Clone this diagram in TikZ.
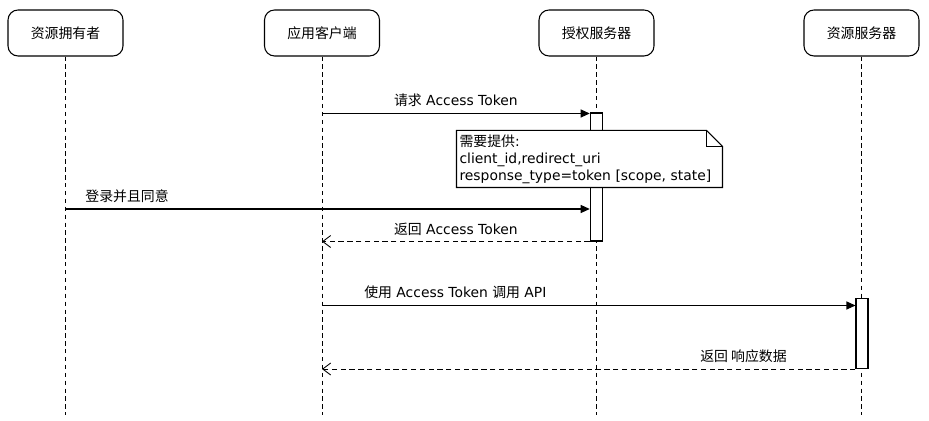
\documentclass[tikz,border=0pt]{standalone}
\usepackage{fontspec}
\setmainfont{DejaVu Sans}
\newfontfamily\cjk{Noto Sans CJK SC}
\newcommand{\zhtext}[1]{{\cjk #1}}
\usetikzlibrary{arrows.meta}

\begin{document}
\begin{tikzpicture}[x=0.02cm,y=-0.02cm,line width=0.6pt,
 font=\fontsize{7.9}{9.2}\selectfont,
 actor/.style={draw,rounded corners=2mm,minimum width=2.3cm,minimum height=0.92cm},
 life/.style={line width=0.5pt,dash pattern=on 2.5pt off 2pt},
 bar/.style={draw,fill=white,minimum width=0.25cm,inner sep=0pt},
 msg/.style={-{Triangle[length=1.8mm,width=1.6mm]}},
 ret/.style={line width=0.5pt,dash pattern=on 3pt off 2pt,-{Straight Barb[length=1.6mm,width=2.4mm]}},
 note/.style={fill=white,align=left,inner sep=0.05cm,text width=5.2cm,minimum height=1.12cm,
   font=\fontsize{7.9}{9.6}\selectfont}]
\useasboundingbox (0,0) rectangle (929,421);
% participants
\node[actor] (owner) at (65.5,33) {\zhtext{资源拥有者}};
\node[actor] (client) at (322,33) {\zhtext{应用客户端}};
\node[actor] (auth) at (596.5,33) {\zhtext{授权服务器}};
\node[actor] (res) at (861.5,33) {\zhtext{资源服务器}};
% lifelines
\foreach \p in {owner,client,auth,res} {
  \coordinate (\p-end) at (\p.south |- 0,415);
  \draw[life] (\p.south) -- (\p-end);
}
% activations
\node[bar,minimum height=2.56cm] (act1) at (596.5,177) {};
\node[bar,minimum height=1.4cm,minimum width=0.24cm] (act2) at (862,333.5) {};
% messages
\coordinate (m1) at (client |- 0,113.5);
\draw[msg] (m1) -- node[above=0pt] {\zhtext{请求} Access Token} (m1 -| act1.west);
\node[note] (req) at (589.5,159) {\zhtext{需要提供}:\\client\_id,redirect\_uri\\response\_type=token [scope, state]};
\draw (req.north west) -- ([xshift=-0.32cm]req.north east) -- ([yshift=-0.32cm]req.north east) |- (req.south west) -- cycle;
\draw ([xshift=-0.32cm]req.north east) |- ([yshift=-0.32cm]req.north east);
\coordinate (m2) at (owner |- 0,209);
\draw[msg] (m2) -- node[pos=0,anchor=south west,xshift=0.27cm] {\zhtext{登录并且同意}} (m2 -| act1.west);
\coordinate (m3) at (client |- act1.south);
\draw[ret] (act1.south west) -- node[above=0pt] {\zhtext{返回} Access Token} (m3);
\coordinate (m4) at (client |- 0,305.5);
\draw[msg] (m4) -- node[pos=0.25,above=0pt] {\zhtext{使用} Access Token \zhtext{调用} API} (m4 -| act2.west);
\coordinate (m5) at (client |- act2.south);
\draw[ret] (act2.south west) -- node[pos=0.21,above=0pt] {\zhtext{返回 响应数据}} (m5);
\end{tikzpicture}
\end{document}
